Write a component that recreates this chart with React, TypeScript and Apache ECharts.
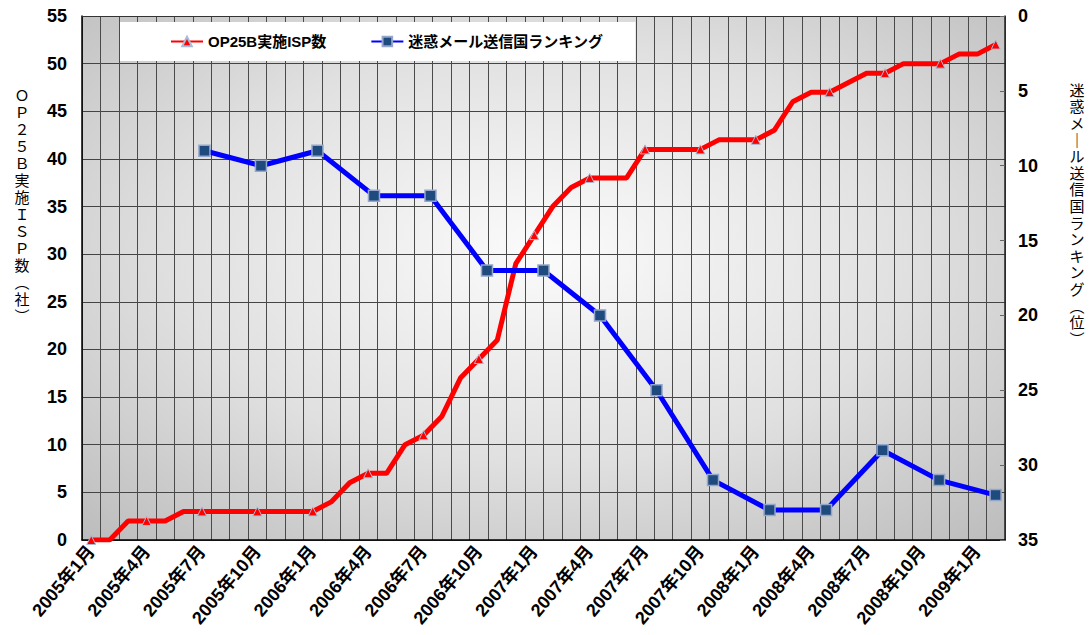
import React, { useEffect, useRef } from "react";
import * as echarts from "echarts";

// Monthly categories: 2005年1月 … 2009年2月 (50 months)
const months: string[] = [];
for (let y = 2005; y <= 2009; y++) {
  for (let m = 1; m <= 12; m++) {
    if (y === 2009 && m > 2) break;
    months.push(`${y}年${m}月`);
  }
}
// secondary (ranking) axis runs 2005年1月 … 2009年1月
const rankAxisMonths = months.slice(0, 49);

const ispCount = [
  0, 0, 2, 2, 2, 3, 3, 3, 3, 3, 3, 3, 3, 4, 6, 7, 7, 10, 11, 13, 17, 19, 21, 29, 32,
  35, 37, 38, 38, 38, 41, 41, 41, 41, 42, 42, 42, 43, 46, 47, 47, 48, 49, 49, 50, 50,
  50, 51, 51, 52,
];
const ispMarkerMonths = [
  "2005年1月", "2005年4月", "2005年7月", "2005年10月", "2006年1月", "2006年4月",
  "2006年7月", "2006年10月", "2007年1月", "2007年4月", "2007年7月", "2007年10月",
  "2008年1月", "2008年5月", "2008年8月", "2008年11月", "2009年2月",
];

const rankMonths = [
  "2005年7月", "2005年10月", "2006年1月", "2006年4月", "2006年7月", "2006年10月",
  "2007年1月", "2007年4月", "2007年7月", "2007年10月", "2008年1月", "2008年4月",
  "2008年7月", "2008年10月", "2009年1月",
];
const spamRank = [9, 10, 9, 12, 12, 17, 17, 20, 25, 31, 33, 33, 29, 31, 32];

const leftTicks = { min: 0, max: 55, interval: 5 };
const rightTicks = { min: 0, max: 35, interval: 5 };

const leftName = ["Ｏ", "Ｐ", "２", "５", "Ｂ", "実", "施", "Ｉ", "Ｓ", "Ｐ", "数", "︵", "社", "︶"];
const rightName = ["迷", "惑", "メ", "｜", "ル", "送", "信", "国", "ラ", "ン", "キ", "ン", "グ", "︵", "位", "︶"];

const FONT = "'Liberation Sans', 'Noto Sans CJK JP', sans-serif";
const CJK = "'Noto Sans CJK JP', sans-serif";

export default function App() {
  const ref = useRef<HTMLDivElement>(null);
  useEffect(() => {
    document.body.style.margin = "0";
    if (!ref.current) return;
    const chart = echarts.init(ref.current, null, { renderer: "svg" });

    const redData = ispCount.map((v, i) =>
      ispMarkerMonths.includes(months[i]) ? v : { value: v, symbol: "none" }
    );
    const blueData = rankAxisMonths.map((m) => {
      const k = rankMonths.indexOf(m);
      return k >= 0 ? spamRank[k] : null;
    });

    chart.setOption({
      animation: false,
      backgroundColor: "#ffffff",
      textStyle: { fontFamily: FONT },
      grid: {
        left: 82,
        right: 86,
        top: 16,
        bottom: 95,
        show: true,
        borderWidth: 0,
        backgroundColor: {
          type: "radial",
          x: 0.5,
          y: 0.45,
          r: 0.8,
          colorStops: [
            { offset: 0, color: "#fbfbfb" },
            { offset: 0.5, color: "#e0e0e0" },
            { offset: 1, color: "#b6b6b6" },
          ],
        },
      },
      legend: {
        left: 120,
        top: 22,
        padding: [12, 32, 12, 50],
        backgroundColor: "#ffffff",
        itemGap: 44,
        itemWidth: 32,
        itemHeight: 12,
        textStyle: { fontSize: 15, fontWeight: "bold", color: "#000", fontFamily: FONT },
        data: ["OP25B実施ISP数", "迷惑メール送信国ランキング"],
      },
      xAxis: [
        {
          type: "category",
          data: months,
          position: "bottom",
          boundaryGap: true,
          axisLine: { show: true, lineStyle: { color: "#000", width: 1.5 } },
          axisTick: { show: false },
          axisLabel: {
            interval: 2,
            rotate: 50,
            margin: 8,
            fontSize: 18,
            fontWeight: "bold",
            color: "#000",
            fontFamily: FONT,
          },
          splitLine: { show: true, interval: 0, lineStyle: { color: "#4a4a4a", width: 1 } },
        },
        {
          type: "category",
          data: rankAxisMonths,
          position: "top",
          boundaryGap: true,
          axisLine: { show: true, lineStyle: { color: "#333", width: 1 } },
          axisTick: { show: false },
          axisLabel: { show: false },
          splitLine: { show: false },
        },
      ],
      yAxis: [
        {
          type: "value",
          position: "left",
          ...leftTicks,
          axisLine: { show: true, lineStyle: { color: "#000", width: 1.5 } },
          axisTick: { show: false },
          axisLabel: { margin: 15, fontSize: 18, fontWeight: "bold", color: "#000", fontFamily: FONT },
          splitLine: { show: true, lineStyle: { color: "#444", width: 1 } },
        },
        {
          type: "value",
          position: "right",
          inverse: true,
          ...rightTicks,
          axisLine: { show: true, lineStyle: { color: "#222", width: 1.5 } },
          axisTick: { show: true, inside: true, length: 5, lineStyle: { color: "#666" } },
          axisLabel: { margin: 13, fontSize: 18, fontWeight: "bold", color: "#000", fontFamily: FONT },
          splitLine: { show: false },
        },
      ],
      series: [
        {
          name: "OP25B実施ISP数",
          type: "line",
          xAxisIndex: 0,
          yAxisIndex: 0,
          data: redData,
          showAllSymbol: true,
          symbol: "triangle",
          symbolSize: 9,
          itemStyle: { color: "#ff0000", borderColor: "#a8bcd8", borderWidth: 1 },
          lineStyle: { color: "#ff0000", width: 5 },
          z: 3,
        },
        {
          name: "迷惑メール送信国ランキング",
          type: "line",
          xAxisIndex: 1,
          yAxisIndex: 1,
          data: blueData,
          connectNulls: true,
          showAllSymbol: true,
          symbol: "rect",
          symbolSize: 11,
          itemStyle: { color: "#1f4a7e", borderColor: "#95a6cc", borderWidth: 1.5 },
          lineStyle: { color: "#0000ff", width: 5 },
          z: 4,
        },
      ],
      graphic: [
        {
          type: "text",
          x: 22,
          y: 86,
          style: {
            text: leftName.join("\n"),
            fontSize: 15,
            lineHeight: 17,
            align: "center",
            verticalAlign: "top",
            fill: "#000",
            fontFamily: CJK,
          },
        },
        {
          type: "text",
          x: 1077,
          y: 81,
          style: {
            text: rightName.join("\n"),
            fontSize: 15,
            lineHeight: 16.6,
            align: "center",
            verticalAlign: "top",
            fill: "#000",
            fontFamily: CJK,
          },
        },
      ],
    });
    return () => chart.dispose();
  }, []);
  return <div ref={ref} style={{ width: 1091, height: 635 }} />;
}
